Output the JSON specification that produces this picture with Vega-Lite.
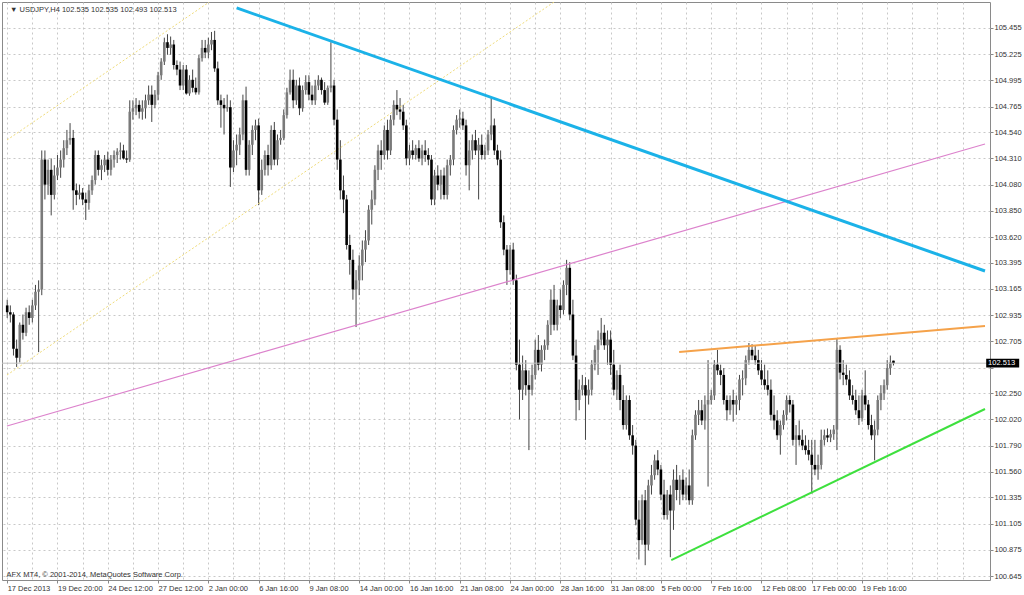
{
  "$schema": "https://vega.github.io/schema/vega-lite/v6.json",
  "width": 988,
  "height": 578,
  "autosize": {"type": "none"},
  "padding": {"left": 2, "top": 2, "right": 34, "bottom": 15},
  "background": "white",
  "config": {"view": {"stroke": "#8a8a8a", "strokeWidth": 1}, "font": "Liberation Sans"},
  "datasets": {
    "candles": [
      {"i":0,"o":103.02,"h":103.07,"l":102.91,"c":102.96},
      {"i":1,"o":102.96,"h":103.02,"l":102.87,"c":102.94},
      {"i":2,"o":102.94,"h":102.96,"l":102.58,"c":102.64},
      {"i":3,"o":102.64,"h":102.72,"l":102.48,"c":102.56},
      {"i":4,"o":102.56,"h":102.87,"l":102.52,"c":102.85},
      {"i":5,"o":102.85,"h":102.94,"l":102.72,"c":102.78},
      {"i":6,"o":102.78,"h":103.00,"l":102.75,"c":102.96},
      {"i":7,"o":102.96,"h":103.02,"l":102.85,"c":102.91},
      {"i":8,"o":102.91,"h":103.07,"l":102.87,"c":103.02},
      {"i":9,"o":103.02,"h":103.20,"l":102.98,"c":103.14},
      {"i":10,"o":103.14,"h":103.24,"l":102.61,"c":103.16},
      {"i":11,"o":103.16,"h":104.38,"l":103.11,"c":104.30},
      {"i":12,"o":104.30,"h":104.38,"l":103.95,"c":104.08},
      {"i":13,"o":104.08,"h":104.30,"l":103.99,"c":104.21},
      {"i":14,"o":104.21,"h":104.31,"l":103.81,"c":103.99},
      {"i":15,"o":103.99,"h":104.25,"l":103.95,"c":104.16},
      {"i":16,"o":104.16,"h":104.34,"l":104.12,"c":104.23},
      {"i":17,"o":104.23,"h":104.38,"l":104.14,"c":104.30},
      {"i":18,"o":104.30,"h":104.47,"l":104.23,"c":104.40},
      {"i":19,"o":104.40,"h":104.56,"l":104.34,"c":104.47},
      {"i":20,"o":104.47,"h":104.62,"l":104.43,"c":104.49},
      {"i":21,"o":104.49,"h":104.56,"l":103.86,"c":104.03},
      {"i":22,"o":104.03,"h":104.09,"l":103.90,"c":103.99},
      {"i":23,"o":103.99,"h":104.08,"l":103.95,"c":104.01},
      {"i":24,"o":104.01,"h":104.05,"l":103.90,"c":103.95},
      {"i":25,"o":103.95,"h":104.01,"l":103.77,"c":103.92},
      {"i":26,"o":103.92,"h":104.08,"l":103.86,"c":104.03},
      {"i":27,"o":104.03,"h":104.16,"l":103.99,"c":104.12},
      {"i":28,"o":104.12,"h":104.38,"l":104.08,"c":104.34},
      {"i":29,"o":104.34,"h":104.38,"l":104.16,"c":104.21},
      {"i":30,"o":104.21,"h":104.30,"l":104.12,"c":104.25},
      {"i":31,"o":104.25,"h":104.34,"l":104.19,"c":104.30},
      {"i":32,"o":104.30,"h":104.37,"l":104.16,"c":104.21},
      {"i":33,"o":104.21,"h":104.34,"l":104.16,"c":104.30},
      {"i":34,"o":104.30,"h":104.38,"l":104.23,"c":104.34},
      {"i":35,"o":104.34,"h":104.40,"l":104.27,"c":104.37},
      {"i":36,"o":104.37,"h":104.45,"l":104.30,"c":104.38},
      {"i":37,"o":104.38,"h":104.43,"l":104.30,"c":104.31},
      {"i":38,"o":104.31,"h":104.38,"l":104.27,"c":104.30},
      {"i":39,"o":104.30,"h":104.82,"l":104.28,"c":104.72},
      {"i":40,"o":104.72,"h":104.82,"l":104.65,"c":104.75},
      {"i":41,"o":104.75,"h":104.84,"l":104.69,"c":104.78},
      {"i":42,"o":104.78,"h":104.82,"l":104.66,"c":104.72},
      {"i":43,"o":104.72,"h":104.82,"l":104.65,"c":104.75},
      {"i":44,"o":104.75,"h":104.87,"l":104.66,"c":104.82},
      {"i":45,"o":104.82,"h":104.95,"l":104.78,"c":104.87},
      {"i":46,"o":104.87,"h":104.95,"l":104.63,"c":104.78},
      {"i":47,"o":104.78,"h":104.91,"l":104.75,"c":104.87},
      {"i":48,"o":104.87,"h":105.07,"l":104.82,"c":105.04},
      {"i":49,"o":105.04,"h":105.19,"l":105.00,"c":105.16},
      {"i":50,"o":105.16,"h":105.37,"l":105.13,"c":105.33},
      {"i":51,"o":105.33,"h":105.40,"l":105.22,"c":105.28},
      {"i":52,"o":105.28,"h":105.38,"l":105.22,"c":105.31},
      {"i":53,"o":105.31,"h":105.35,"l":105.09,"c":105.13},
      {"i":54,"o":105.13,"h":105.17,"l":105.04,"c":105.09},
      {"i":55,"o":105.09,"h":105.16,"l":104.91,"c":104.95},
      {"i":56,"o":104.95,"h":105.13,"l":104.91,"c":105.09},
      {"i":57,"o":105.09,"h":105.13,"l":104.87,"c":104.88},
      {"i":58,"o":104.88,"h":105.04,"l":104.86,"c":105.00},
      {"i":59,"o":105.00,"h":105.09,"l":104.89,"c":104.93},
      {"i":60,"o":104.93,"h":105.02,"l":104.87,"c":104.89},
      {"i":61,"o":104.89,"h":105.22,"l":104.87,"c":105.19},
      {"i":62,"o":105.19,"h":105.35,"l":105.16,"c":105.28},
      {"i":63,"o":105.28,"h":105.35,"l":105.19,"c":105.24},
      {"i":64,"o":105.24,"h":105.37,"l":105.19,"c":105.31},
      {"i":65,"o":105.31,"h":105.42,"l":105.26,"c":105.35},
      {"i":66,"o":105.35,"h":105.43,"l":105.07,"c":105.10},
      {"i":67,"o":105.10,"h":105.16,"l":104.78,"c":104.82},
      {"i":68,"o":104.82,"h":104.87,"l":104.58,"c":104.78},
      {"i":69,"o":104.78,"h":104.84,"l":104.52,"c":104.75},
      {"i":70,"o":104.75,"h":104.87,"l":104.72,"c":104.76},
      {"i":71,"o":104.76,"h":104.82,"l":104.06,"c":104.23},
      {"i":72,"o":104.23,"h":104.47,"l":104.19,"c":104.38},
      {"i":73,"o":104.38,"h":104.52,"l":104.25,"c":104.43},
      {"i":74,"o":104.43,"h":104.58,"l":104.34,"c":104.52},
      {"i":75,"o":104.52,"h":104.87,"l":104.47,"c":104.82},
      {"i":76,"o":104.82,"h":104.94,"l":104.16,"c":104.21},
      {"i":77,"o":104.21,"h":104.47,"l":104.16,"c":104.43},
      {"i":78,"o":104.43,"h":104.60,"l":104.34,"c":104.56},
      {"i":79,"o":104.56,"h":104.65,"l":104.47,"c":104.60},
      {"i":80,"o":104.60,"h":104.66,"l":103.90,"c":104.03},
      {"i":81,"o":104.03,"h":104.30,"l":103.99,"c":104.21},
      {"i":82,"o":104.21,"h":104.38,"l":104.16,"c":104.34},
      {"i":83,"o":104.34,"h":104.43,"l":104.16,"c":104.25},
      {"i":84,"o":104.25,"h":104.60,"l":104.21,"c":104.56},
      {"i":85,"o":104.56,"h":104.63,"l":104.25,"c":104.30},
      {"i":86,"o":104.30,"h":104.52,"l":104.25,"c":104.47},
      {"i":87,"o":104.47,"h":104.56,"l":104.43,"c":104.49},
      {"i":88,"o":104.49,"h":104.74,"l":104.47,"c":104.69},
      {"i":89,"o":104.69,"h":104.93,"l":104.66,"c":104.89},
      {"i":90,"o":104.89,"h":105.09,"l":104.87,"c":105.00},
      {"i":91,"o":105.00,"h":105.09,"l":104.75,"c":104.82},
      {"i":92,"o":104.82,"h":105.00,"l":104.78,"c":104.95},
      {"i":93,"o":104.95,"h":105.02,"l":104.69,"c":104.75},
      {"i":94,"o":104.75,"h":104.95,"l":104.72,"c":104.91},
      {"i":95,"o":104.91,"h":105.04,"l":104.87,"c":104.98},
      {"i":96,"o":104.98,"h":105.04,"l":104.82,"c":104.87},
      {"i":97,"o":104.87,"h":104.95,"l":104.78,"c":104.82},
      {"i":98,"o":104.82,"h":105.00,"l":104.78,"c":104.95},
      {"i":99,"o":104.95,"h":105.04,"l":104.91,"c":105.00},
      {"i":100,"o":105.00,"h":105.02,"l":104.87,"c":104.91},
      {"i":101,"o":104.91,"h":104.98,"l":104.78,"c":104.80},
      {"i":102,"o":104.80,"h":104.95,"l":104.78,"c":104.93},
      {"i":103,"o":104.93,"h":105.33,"l":104.89,"c":104.95},
      {"i":104,"o":104.95,"h":105.00,"l":104.60,"c":104.65},
      {"i":105,"o":104.65,"h":104.74,"l":104.21,"c":104.30},
      {"i":106,"o":104.30,"h":104.47,"l":103.95,"c":104.03},
      {"i":107,"o":104.03,"h":104.16,"l":103.83,"c":103.95},
      {"i":108,"o":103.95,"h":103.99,"l":103.51,"c":103.55},
      {"i":109,"o":103.55,"h":103.64,"l":103.29,"c":103.42},
      {"i":110,"o":103.42,"h":103.51,"l":103.07,"c":103.16},
      {"i":111,"o":103.16,"h":103.33,"l":102.83,"c":103.24},
      {"i":112,"o":103.24,"h":103.46,"l":103.11,"c":103.37},
      {"i":113,"o":103.37,"h":103.59,"l":103.24,"c":103.51},
      {"i":114,"o":103.51,"h":103.68,"l":103.40,"c":103.59},
      {"i":115,"o":103.59,"h":103.90,"l":103.55,"c":103.86},
      {"i":116,"o":103.86,"h":104.03,"l":103.73,"c":103.95},
      {"i":117,"o":103.95,"h":104.25,"l":103.90,"c":104.21},
      {"i":118,"o":104.21,"h":104.43,"l":104.12,"c":104.38},
      {"i":119,"o":104.38,"h":104.47,"l":104.21,"c":104.34},
      {"i":120,"o":104.34,"h":104.60,"l":104.30,"c":104.56},
      {"i":121,"o":104.56,"h":104.65,"l":104.30,"c":104.38},
      {"i":122,"o":104.38,"h":104.69,"l":104.34,"c":104.65},
      {"i":123,"o":104.65,"h":104.82,"l":104.60,"c":104.78},
      {"i":124,"o":104.78,"h":104.91,"l":104.69,"c":104.74},
      {"i":125,"o":104.74,"h":104.84,"l":104.65,"c":104.72},
      {"i":126,"o":104.72,"h":104.78,"l":104.56,"c":104.60},
      {"i":127,"o":104.60,"h":104.65,"l":104.25,"c":104.31},
      {"i":128,"o":104.31,"h":104.43,"l":104.25,"c":104.38},
      {"i":129,"o":104.38,"h":104.47,"l":104.30,"c":104.34},
      {"i":130,"o":104.34,"h":104.43,"l":104.30,"c":104.40},
      {"i":131,"o":104.40,"h":104.47,"l":104.28,"c":104.31},
      {"i":132,"o":104.31,"h":104.43,"l":104.25,"c":104.38},
      {"i":133,"o":104.38,"h":104.47,"l":104.28,"c":104.34},
      {"i":134,"o":104.34,"h":104.40,"l":104.25,"c":104.30},
      {"i":135,"o":104.30,"h":104.34,"l":103.90,"c":103.95},
      {"i":136,"o":103.95,"h":104.21,"l":103.90,"c":104.16},
      {"i":137,"o":104.16,"h":104.25,"l":104.03,"c":104.08},
      {"i":138,"o":104.08,"h":104.21,"l":103.95,"c":104.16},
      {"i":139,"o":104.16,"h":104.23,"l":103.95,"c":103.99},
      {"i":140,"o":103.99,"h":104.30,"l":103.95,"c":104.25},
      {"i":141,"o":104.25,"h":104.34,"l":104.16,"c":104.30},
      {"i":142,"o":104.30,"h":104.60,"l":104.25,"c":104.56},
      {"i":143,"o":104.56,"h":104.69,"l":104.52,"c":104.65},
      {"i":144,"o":104.65,"h":104.74,"l":104.58,"c":104.66},
      {"i":145,"o":104.66,"h":104.72,"l":104.56,"c":104.60},
      {"i":146,"o":104.60,"h":104.65,"l":104.16,"c":104.25},
      {"i":147,"o":104.25,"h":104.47,"l":104.03,"c":104.38},
      {"i":148,"o":104.38,"h":104.52,"l":104.30,"c":104.47},
      {"i":149,"o":104.47,"h":104.56,"l":104.34,"c":104.38},
      {"i":150,"o":104.38,"h":104.49,"l":103.95,"c":104.43},
      {"i":151,"o":104.43,"h":104.52,"l":104.30,"c":104.34},
      {"i":152,"o":104.34,"h":104.43,"l":104.30,"c":104.38},
      {"i":153,"o":104.38,"h":104.56,"l":104.34,"c":104.52},
      {"i":154,"o":104.52,"h":104.84,"l":104.47,"c":104.60},
      {"i":155,"o":104.60,"h":104.66,"l":104.34,"c":104.38},
      {"i":156,"o":104.38,"h":104.43,"l":104.25,"c":104.30},
      {"i":157,"o":104.30,"h":104.38,"l":103.70,"c":103.75},
      {"i":158,"o":103.75,"h":103.81,"l":103.46,"c":103.51},
      {"i":159,"o":103.51,"h":103.55,"l":103.20,"c":103.33},
      {"i":160,"o":103.33,"h":103.55,"l":103.29,"c":103.51},
      {"i":161,"o":103.51,"h":103.57,"l":103.20,"c":103.24},
      {"i":162,"o":103.24,"h":103.29,"l":102.45,"c":102.50},
      {"i":163,"o":102.50,"h":102.72,"l":102.02,"c":102.28},
      {"i":164,"o":102.28,"h":102.58,"l":102.19,"c":102.45},
      {"i":165,"o":102.45,"h":102.54,"l":102.23,"c":102.32},
      {"i":166,"o":102.32,"h":102.45,"l":101.75,"c":102.28},
      {"i":167,"o":102.28,"h":102.50,"l":102.23,"c":102.41},
      {"i":168,"o":102.41,"h":102.72,"l":102.37,"c":102.63},
      {"i":169,"o":102.63,"h":102.76,"l":102.45,"c":102.50},
      {"i":170,"o":102.50,"h":102.67,"l":102.44,"c":102.63},
      {"i":171,"o":102.63,"h":102.72,"l":102.54,"c":102.67},
      {"i":172,"o":102.67,"h":102.89,"l":102.63,"c":102.85},
      {"i":173,"o":102.85,"h":103.16,"l":102.76,"c":103.07},
      {"i":174,"o":103.07,"h":103.20,"l":102.80,"c":102.85},
      {"i":175,"o":102.85,"h":103.07,"l":102.80,"c":103.02},
      {"i":176,"o":103.02,"h":103.16,"l":102.91,"c":102.98},
      {"i":177,"o":102.98,"h":103.24,"l":102.94,"c":103.20},
      {"i":178,"o":103.20,"h":103.42,"l":103.11,"c":103.35},
      {"i":179,"o":103.35,"h":103.40,"l":102.89,"c":102.94},
      {"i":180,"o":102.94,"h":103.07,"l":102.54,"c":102.58},
      {"i":181,"o":102.58,"h":102.72,"l":102.01,"c":102.19},
      {"i":182,"o":102.19,"h":102.37,"l":102.10,"c":102.28},
      {"i":183,"o":102.28,"h":102.41,"l":102.23,"c":102.32},
      {"i":184,"o":102.32,"h":102.39,"l":101.84,"c":102.23},
      {"i":185,"o":102.23,"h":102.37,"l":102.15,"c":102.28},
      {"i":186,"o":102.28,"h":102.54,"l":102.23,"c":102.50},
      {"i":187,"o":102.50,"h":102.67,"l":102.45,"c":102.63},
      {"i":188,"o":102.63,"h":102.80,"l":102.41,"c":102.72},
      {"i":189,"o":102.72,"h":102.91,"l":102.67,"c":102.78},
      {"i":190,"o":102.78,"h":102.85,"l":102.63,"c":102.67},
      {"i":191,"o":102.67,"h":102.80,"l":102.50,"c":102.72},
      {"i":192,"o":102.72,"h":102.80,"l":102.41,"c":102.50},
      {"i":193,"o":102.50,"h":102.63,"l":102.23,"c":102.28},
      {"i":194,"o":102.28,"h":102.45,"l":102.19,"c":102.41},
      {"i":195,"o":102.41,"h":102.50,"l":102.10,"c":102.19},
      {"i":196,"o":102.19,"h":102.32,"l":101.93,"c":101.97},
      {"i":197,"o":101.97,"h":102.23,"l":101.93,"c":102.19},
      {"i":198,"o":102.19,"h":102.23,"l":101.84,"c":101.88},
      {"i":199,"o":101.88,"h":101.97,"l":101.71,"c":101.79},
      {"i":200,"o":101.79,"h":101.84,"l":101.09,"c":101.14},
      {"i":201,"o":101.14,"h":101.31,"l":100.79,"c":100.96},
      {"i":202,"o":100.96,"h":101.36,"l":100.92,"c":101.31},
      {"i":203,"o":101.31,"h":101.40,"l":100.74,"c":100.92},
      {"i":204,"o":100.92,"h":101.49,"l":100.87,"c":101.44},
      {"i":205,"o":101.44,"h":101.62,"l":101.36,"c":101.53},
      {"i":206,"o":101.53,"h":101.71,"l":101.49,"c":101.66},
      {"i":207,"o":101.66,"h":101.75,"l":101.53,"c":101.58},
      {"i":208,"o":101.58,"h":101.62,"l":101.31,"c":101.36},
      {"i":209,"o":101.36,"h":101.49,"l":101.14,"c":101.18},
      {"i":210,"o":101.18,"h":101.40,"l":101.14,"c":101.36},
      {"i":211,"o":101.36,"h":101.44,"l":100.81,"c":101.22},
      {"i":212,"o":101.22,"h":101.58,"l":101.05,"c":101.49},
      {"i":213,"o":101.49,"h":101.62,"l":101.31,"c":101.40},
      {"i":214,"o":101.40,"h":101.53,"l":101.27,"c":101.49},
      {"i":215,"o":101.49,"h":101.58,"l":101.31,"c":101.36},
      {"i":216,"o":101.36,"h":101.51,"l":101.31,"c":101.44},
      {"i":217,"o":101.44,"h":101.58,"l":101.27,"c":101.31},
      {"i":218,"o":101.31,"h":101.93,"l":101.27,"c":101.88},
      {"i":219,"o":101.88,"h":102.10,"l":101.84,"c":102.06},
      {"i":220,"o":102.06,"h":102.19,"l":101.97,"c":102.10},
      {"i":221,"o":102.10,"h":102.19,"l":101.97,"c":102.01},
      {"i":222,"o":102.01,"h":102.23,"l":101.93,"c":102.15},
      {"i":223,"o":102.15,"h":102.54,"l":101.43,"c":102.19},
      {"i":224,"o":102.19,"h":102.28,"l":102.15,"c":102.23},
      {"i":225,"o":102.23,"h":102.54,"l":102.19,"c":102.50},
      {"i":226,"o":102.50,"h":102.63,"l":102.41,"c":102.45},
      {"i":227,"o":102.45,"h":102.50,"l":102.32,"c":102.41},
      {"i":228,"o":102.41,"h":102.47,"l":102.15,"c":102.19},
      {"i":229,"o":102.19,"h":102.23,"l":102.01,"c":102.10},
      {"i":230,"o":102.10,"h":102.23,"l":102.06,"c":102.19},
      {"i":231,"o":102.19,"h":102.28,"l":102.00,"c":102.15},
      {"i":232,"o":102.15,"h":102.23,"l":102.06,"c":102.19},
      {"i":233,"o":102.19,"h":102.41,"l":102.10,"c":102.37},
      {"i":234,"o":102.37,"h":102.45,"l":102.23,"c":102.38},
      {"i":235,"o":102.38,"h":102.58,"l":102.32,"c":102.54},
      {"i":236,"o":102.54,"h":102.69,"l":102.50,"c":102.63},
      {"i":237,"o":102.63,"h":102.68,"l":102.54,"c":102.58},
      {"i":238,"o":102.58,"h":102.67,"l":102.50,"c":102.54},
      {"i":239,"o":102.54,"h":102.63,"l":102.41,"c":102.45},
      {"i":240,"o":102.45,"h":102.54,"l":102.32,"c":102.37},
      {"i":241,"o":102.37,"h":102.50,"l":102.28,"c":102.32},
      {"i":242,"o":102.32,"h":102.45,"l":102.23,"c":102.28},
      {"i":243,"o":102.28,"h":102.37,"l":102.01,"c":102.06},
      {"i":244,"o":102.06,"h":102.23,"l":101.93,"c":102.01},
      {"i":245,"o":102.01,"h":102.10,"l":101.84,"c":101.88},
      {"i":246,"o":101.88,"h":102.01,"l":101.71,"c":101.97},
      {"i":247,"o":101.97,"h":102.10,"l":101.93,"c":102.06},
      {"i":248,"o":102.06,"h":102.23,"l":102.01,"c":102.19},
      {"i":249,"o":102.19,"h":102.23,"l":102.08,"c":102.15},
      {"i":250,"o":102.15,"h":102.19,"l":101.79,"c":101.84},
      {"i":251,"o":101.84,"h":101.97,"l":101.62,"c":101.88},
      {"i":252,"o":101.88,"h":102.01,"l":101.79,"c":101.84},
      {"i":253,"o":101.84,"h":101.93,"l":101.75,"c":101.79},
      {"i":254,"o":101.79,"h":101.88,"l":101.71,"c":101.75},
      {"i":255,"o":101.75,"h":101.84,"l":101.66,"c":101.71},
      {"i":256,"o":101.71,"h":101.84,"l":101.37,"c":101.62},
      {"i":257,"o":101.62,"h":101.84,"l":101.53,"c":101.58},
      {"i":258,"o":101.58,"h":101.71,"l":101.49,"c":101.62},
      {"i":259,"o":101.62,"h":101.93,"l":101.58,"c":101.84},
      {"i":260,"o":101.84,"h":101.93,"l":101.79,"c":101.88},
      {"i":261,"o":101.88,"h":101.94,"l":101.82,"c":101.86},
      {"i":262,"o":101.86,"h":101.93,"l":101.82,"c":101.89},
      {"i":263,"o":101.89,"h":101.97,"l":101.84,"c":101.93},
      {"i":264,"o":101.93,"h":102.73,"l":101.75,"c":102.63},
      {"i":265,"o":102.63,"h":102.67,"l":102.37,"c":102.43},
      {"i":266,"o":102.43,"h":102.54,"l":102.32,"c":102.41},
      {"i":267,"o":102.41,"h":102.50,"l":102.32,"c":102.37},
      {"i":268,"o":102.37,"h":102.45,"l":102.19,"c":102.23},
      {"i":269,"o":102.23,"h":102.32,"l":102.15,"c":102.19},
      {"i":270,"o":102.19,"h":102.28,"l":102.06,"c":102.10},
      {"i":271,"o":102.10,"h":102.23,"l":101.97,"c":102.03},
      {"i":272,"o":102.03,"h":102.28,"l":102.00,"c":102.23},
      {"i":273,"o":102.23,"h":102.45,"l":102.10,"c":102.15},
      {"i":274,"o":102.15,"h":102.19,"l":101.93,"c":101.97},
      {"i":275,"o":101.97,"h":102.06,"l":101.84,"c":101.88},
      {"i":276,"o":101.88,"h":102.01,"l":101.66,"c":101.93},
      {"i":277,"o":101.93,"h":102.23,"l":101.88,"c":102.19},
      {"i":278,"o":102.19,"h":102.32,"l":102.10,"c":102.25},
      {"i":279,"o":102.25,"h":102.37,"l":102.19,"c":102.32},
      {"i":280,"o":102.32,"h":102.54,"l":102.28,"c":102.47},
      {"i":281,"o":102.47,"h":102.58,"l":102.41,"c":102.52},
      {"i":282,"o":102.535,"h":102.535,"l":102.493,"c":102.513}
    ],
    "lines": [
      {"name":"blue","i":73.0,"p":105.631},
      {"name":"blue","i":311.12,"p":103.322},
      {"name":"pink","i":-0.063,"p":101.962},
      {"name":"pink","i":311.12,"p":104.437},
      {"name":"orange","i":213.8,"p":102.611},
      {"name":"orange","i":311.12,"p":102.839},
      {"name":"green","i":211.3,"p":100.785},
      {"name":"green","i":311.12,"p":102.111},
      {"name":"yellow1","i":-0.063,"p":104.472},
      {"name":"yellow1","i":64.3,"p":105.683},
      {"name":"yellow2","i":-0.063,"p":102.409},
      {"name":"yellow2","i":174.0,"p":105.683}
    ]
  },
  "layer": [
    {
      "data": {"name": "candles"},
      "mark": {"type": "rule", "color": "#444444", "strokeWidth": 1},
      "encoding": {
        "x": {"field": "i", "type": "quantitative",
          "scale": {"domain": [-0.063, 311.12], "nice": false, "zero": false},
          "axis": {
            "title": "AFX MT4, © 2001-2014, MetaQuotes Software Corp.",
            "titleX": 4, "titleY": -6, "titleAnchor": "start", "titleAlign": "left", "titleBaseline": "middle",
            "titleFontSize": 7.5, "titleFontWeight": "normal", "titleColor": "#333333", "titleFont": "Liberation Sans",
            "values": [0,8,16,24,32,40,48,56,64,72,80,88,96,104,112,120,128,136,144,152,160,168,176,184,192,200,208,216,224,232,240,248,256,264,272,280,288,296,304],
            "tickCount": 200,
            "labelExpr": "(datum.value % 16 == 0 && datum.value <= 272) ? ['17 Dec 2013','19 Dec 20:00','24 Dec 12:00','27 Dec 12:00','2 Jan 00:00','6 Jan 16:00','9 Jan 08:00','14 Jan 00:00','16 Jan 16:00','21 Jan 08:00','24 Jan 00:00','28 Jan 16:00','31 Jan 08:00','5 Feb 00:00','7 Feb 16:00','12 Feb 08:00','17 Feb 00:00','19 Feb 16:00'][datum.value / 16] : ''",
            "labelAlign": "left", "labelFlush": false, "labelOverlap": false, "labelFontSize": 7.5, "labelColor": "#333333", "labelFont": "Liberation Sans",
            "labelPadding": 1, "labelBaseline": "top",
            "tickSize": 3, "tickColor": "#888888",
            "tickOpacity": {"condition": {"test": "datum.value % 16 == 0 && datum.value <= 272", "value": 1}, "value": 0},
            "domain": false, "grid": true, "gridColor": "#c8c8c8", "gridDash": [2, 3], "gridWidth": 1
          }
        },
        "y": {"field": "l", "type": "quantitative",
          "scale": {"domain": [100.61, 105.683], "nice": false, "zero": false},
          "axis": {
            "title": null, "orient": "right",
            "values": [100.645,100.875,101.105,101.335,101.56,101.79,102.02,102.25,102.475,102.705,102.935,103.165,103.395,103.62,103.85,104.08,104.31,104.54,104.765,104.995,105.225,105.455],
            "tickCount": 200,
            "labelExpr": "datum.value == 102.475 ? '' : format(datum.value, '.3f')",
            "labelOverlap": false, "labelFlush": false,
            "labelFontSize": 7.5, "labelColor": "#333333", "labelFont": "Liberation Sans", "labelPadding": 1,
            "tickSize": 3, "tickColor": "#888888", "domain": false,
            "grid": true, "gridColor": "#c8c8c8", "gridDash": [2, 3], "gridWidth": 1
          }
        },
        "y2": {"field": "h"}
      }
    },
    {
      "data": {"name": "lines"},
      "transform": [{"filter": "datum.name == 'yellow1' || datum.name == 'yellow2'"}],
      "mark": {"type": "line", "clip": true, "color": "#f0dc7a", "strokeWidth": 1, "strokeDash": [2, 2]},
      "encoding": {
        "x": {"field": "i", "type": "quantitative"},
        "y": {"field": "p", "type": "quantitative"},
        "detail": {"field": "name"}
      }
    },
    {
      "data": {"name": "candles"},
      "mark": {"type": "bar", "size": 2.6},
      "encoding": {
        "x": {"field": "i", "type": "quantitative"},
        "y": {"field": "o", "type": "quantitative"},
        "y2": {"field": "c"},
        "color": {"condition": {"test": "datum.c < datum.o", "value": "#000000"}, "value": "#7a7a7a"}
      }
    },
    {
      "data": {"values": [{"price": 102.513}]},
      "mark": {"type": "rule", "color": "#c0c0c0", "strokeWidth": 1},
      "encoding": {"y": {"field": "price", "type": "quantitative"}}
    },
    {
      "data": {"name": "lines"},
      "transform": [{"filter": "datum.name == 'pink'"}],
      "mark": {"type": "line", "clip": true, "color": "#dc82cc", "strokeWidth": 1.2},
      "encoding": {
        "x": {"field": "i", "type": "quantitative"},
        "y": {"field": "p", "type": "quantitative"}
      }
    },
    {
      "data": {"name": "lines"},
      "transform": [{"filter": "datum.name == 'blue'"}],
      "mark": {"type": "line", "clip": true, "color": "#1bb2e8", "strokeWidth": 3},
      "encoding": {
        "x": {"field": "i", "type": "quantitative"},
        "y": {"field": "p", "type": "quantitative"}
      }
    },
    {
      "data": {"name": "lines"},
      "transform": [{"filter": "datum.name == 'orange'"}],
      "mark": {"type": "line", "clip": true, "color": "#f5a24a", "strokeWidth": 2},
      "encoding": {
        "x": {"field": "i", "type": "quantitative"},
        "y": {"field": "p", "type": "quantitative"}
      }
    },
    {
      "data": {"name": "lines"},
      "transform": [{"filter": "datum.name == 'green'"}],
      "mark": {"type": "line", "clip": true, "color": "#3ee03e", "strokeWidth": 2},
      "encoding": {
        "x": {"field": "i", "type": "quantitative"},
        "y": {"field": "p", "type": "quantitative"}
      }
    },
    {
      "data": {"values": [{"label": "102.513", "x0": 311.5, "x1": 322.0, "lo": 102.475, "hi": 102.552, "price": 102.513, "tx": 312.1}]},
      "layer": [
        {
          "mark": {"type": "rect", "color": "#000000"},
          "encoding": {
            "x": {"field": "x0", "type": "quantitative"},
            "x2": {"field": "x1"},
            "y": {"field": "lo", "type": "quantitative"},
            "y2": {"field": "hi"}
          }
        },
        {
          "mark": {"type": "text", "color": "#ffffff", "fontSize": 7.5, "font": "Liberation Sans", "align": "left", "baseline": "middle"},
          "encoding": {
            "x": {"field": "tx", "type": "quantitative"},
            "y": {"field": "price", "type": "quantitative"},
            "text": {"field": "label"}
          }
        }
      ]
    },
    {
      "data": {"values": [{"label": "▼ USDJPY,H4  102.535 102.535 102.493 102.513", "bar": 0.9, "price": 105.613}]},
      "mark": {"type": "text", "color": "#333333", "fontSize": 7.5, "font": "Liberation Sans", "align": "left", "baseline": "middle"},
      "encoding": {
        "x": {"field": "bar", "type": "quantitative"},
        "y": {"field": "price", "type": "quantitative"},
        "text": {"field": "label"}
      }
    }
  ]
}
